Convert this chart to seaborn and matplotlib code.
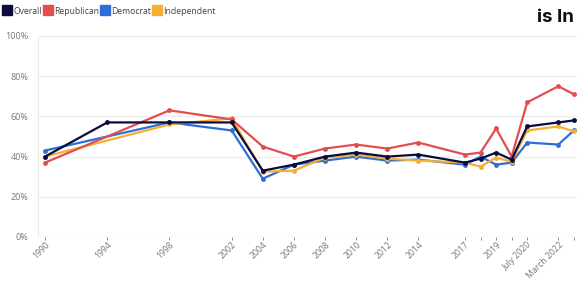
import numpy as np
import pandas as pd
import matplotlib
matplotlib.use("Agg")
import matplotlib.pyplot as plt
from matplotlib.lines import Line2D
import seaborn as sns

# ---- data ----
positions = [1990, 1994, 1998, 2002, 2004, 2006, 2008, 2010, 2012, 2014,
             2017, 2018, 2019, 2020, 2021, 2023, 2024]
tick_labels = ["1990", "1994", "1998", "2002", "2004", "2006", "2008", "2010",
               "2012", "2014", "2017", "", "2019", "", "July 2020", "March 2022", ""]
overall = [40, 57, 57, 57, 33, 36, 40, 42, 40, 41, 37, 39, 42, 38.5, 55, 57, 58]
republican = [37, np.nan, 63, 58.5, 45, 40, 44, 46, 44, 47, 41, 42, 54, 40, 67, 75, 71]
democrat = [43, np.nan, 57, 53, 29, 36, 38, 40, 38, 38.5, 36, 40, 36, 37, 47, 46, 53]
independent = [40, np.nan, 56, 59, 32.5, 33, 39.5, 41, 39, 38, 37, 35, 39.5, 37.5, 53, 55, 52.5]
series_names = ["Overall", "Republican", "Democrat", "Independent"]
colors = {"Overall": "#0b0b40", "Republican": "#e24e4f",
          "Democrat": "#2f6ed8", "Independent": "#f4b030"}

frames = []
for name, vals in zip(series_names, [overall, republican, democrat, independent]):
    frames.append(pd.DataFrame({"x": positions, "value": vals, "series": name}))
df = pd.concat(frames).dropna()

sns.set_theme(style="white")
plt.rcParams["font.family"] = ["Open Sans", "DejaVu Sans"]

fig = plt.figure(figsize=(5.77, 2.81), dpi=100)
ax = fig.add_axes([38 / 577, 1 - 237 / 281, 1 - 38 / 577, (237 - 36) / 281])

draw_order = ["Democrat", "Independent", "Republican", "Overall"]
for name in draw_order:
    sub = df[df["series"] == name]
    sns.lineplot(data=sub, x="x", y="value", ax=ax, color=colors[name],
                 linewidth=1.6, marker="o", markersize=3.5,
                 markeredgewidth=0, legend=False, zorder=3)

ax.set_xlim(1989.55, 2024.2)
ax.set_ylim(0, 100)
ax.set_yticks([0, 20, 40, 60, 80, 100])
ax.set_yticklabels([f"{v}%" for v in [0, 20, 40, 60, 80, 100]])
ax.set_xticks(positions)
ax.set_xticklabels(tick_labels, rotation=45, ha="right", rotation_mode="anchor")
ax.set_xlabel("")
ax.set_ylabel("")
ax.grid(axis="y", color="#ececec", linewidth=0.8)
ax.grid(axis="x", visible=False)
for s in ["top", "right", "bottom"]:
    ax.spines[s].set_visible(False)
ax.spines["left"].set_color("#ececec")
ax.spines["left"].set_linewidth(0.8)
ax.tick_params(axis="y", labelsize=6.5, colors="#777777", length=0, pad=7)
ax.tick_params(axis="x", labelsize=6.2, colors="#777777", length=2.5,
               width=0.6, direction="out", bottom=True, pad=0)
for t in ax.get_xticklines():
    t.set_color("#e6e6e6")

handles = [Line2D([0], [0], marker="s", linestyle="", markersize=6.5,
                  markerfacecolor=colors[n], markeredgecolor=colors[n])
           for n in series_names]
leg = fig.legend(handles, series_names, loc="center left",
                 bbox_to_anchor=(0.0, 1 - 11 / 281), ncol=4, frameon=False,
                 fontsize=6.2, handletextpad=0.4, columnspacing=0.3,
                 handlelength=0.7, borderaxespad=0.3, borderpad=0.2)
for t in leg.get_texts():
    t.set_color("#444444")

fig.text(537 / 577, 1 - 18 / 281, "is In", fontsize=13.5, fontweight="bold",
         color="#111111", ha="left", va="center", family=["Inter", "DejaVu Sans"])

fig.savefig("out.png", dpi=100)
